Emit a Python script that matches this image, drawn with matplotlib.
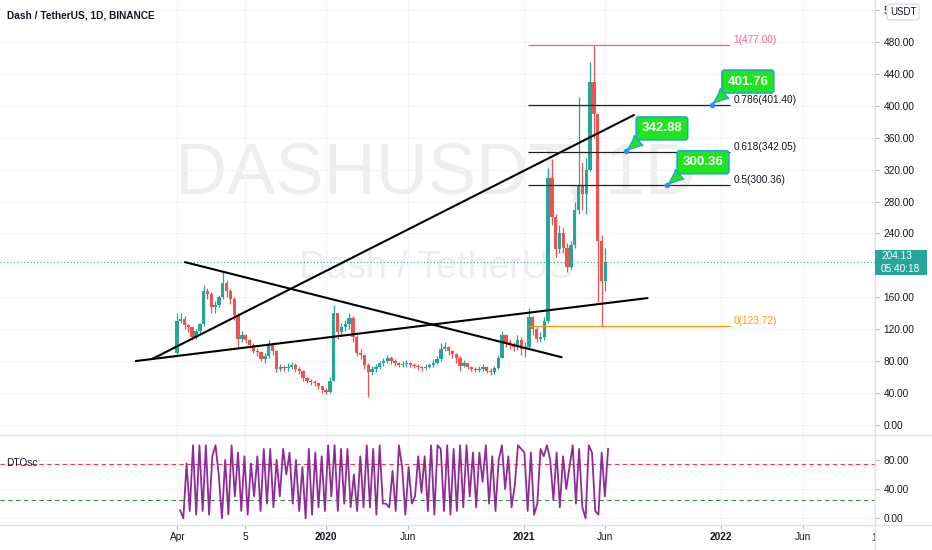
import matplotlib
matplotlib.use('Agg')
import matplotlib.pyplot as plt
import matplotlib.dates as mdates
from matplotlib.patches import Rectangle
from matplotlib.lines import Line2D
from matplotlib.ticker import FuncFormatter
from matplotlib.transforms import blended_transform_factory
import pandas as pd

plt.rcParams['font.family'] = ['Liberation Sans', 'DejaVu Sans']

# weekly candles
first_open = 90
closes = [130, 133, 125, 122, 110, 117, 126, 168, 164, 148, 150, 160, 178, 168, 158, 138,
          108, 112, 106, 100, 93, 91, 82, 86, 100, 92, 70, 72, 71, 73, 75, 70,
          68, 58, 55, 53, 52, 48, 43, 41, 55, 140, 116, 122, 126, 134, 110, 90,
          88, 75, 66, 70, 72, 77, 80, 84, 80, 77, 75, 76, 77, 75, 74, 72,
          71, 73, 75, 78, 82, 95, 98, 93, 89, 84, 74, 77, 73, 70, 69, 70,
          72, 68, 66, 71, 84, 112, 104, 100, 97, 106, 95, 98, 135, 120, 108, 110,
          130, 310, 260, 220, 240, 222, 198, 225, 270, 300, 290, 320, 430, 390, 230, 180,
          204.13]
highs = [140, 140, 136, 126, 122, 120, 128, 175, 172, 166, 155, 163, 192, 182, 170, 160,
         140, 118, 114, 108, 102, 96, 92, 90, 106, 104, 94, 76, 75, 77, 79, 77,
         72, 69, 60, 57, 56, 53, 49, 46, 60, 150, 135, 128, 132, 140, 136, 112,
         95, 88, 78, 74, 76, 80, 84, 88, 86, 82, 79, 80, 81, 79, 78, 76,
         74, 76, 78, 82, 86, 102, 104, 99, 94, 90, 86, 81, 78, 74, 73, 74,
         76, 74, 71, 74, 88, 118, 114, 108, 104, 112, 110, 104, 146, 136, 122, 116,
         135, 322, 334, 265, 250, 248, 228, 230, 280, 411, 330, 335, 455, 477, 364, 238,
         222]
lows = [88, 128, 120, 116, 106, 108, 115, 124, 158, 140, 140, 148, 158, 160, 152, 132,
        98, 104, 102, 96, 90, 86, 80, 78, 84, 88, 66, 67, 67, 68, 70, 66,
        64, 55, 52, 50, 48, 45, 40, 38, 40, 55, 108, 112, 118, 120, 104, 86,
        82, 70, 35, 62, 66, 70, 74, 78, 76, 74, 72, 72, 73, 72, 71, 69,
        68, 69, 71, 73, 76, 80, 92, 88, 84, 78, 68, 72, 70, 67, 66, 66,
        68, 65, 63, 64, 70, 84, 98, 95, 92, 94, 88, 85, 96, 112, 104, 104,
        106, 128, 250, 210, 215, 215, 192, 195, 222, 265, 270, 265, 318, 360, 154, 123.72,
        168]
candle_dates = pd.date_range('2019-03-31', '2021-06-01', periods=len(closes))

# DTOsc, turning points
osc = [11, 0, 75, 10, 100, 5, 100, 10, 100, 5, 85, 100, 60, 0, 80, 5, 100, 30, 90, 10,
       85, 5, 75, 30, 85, 10, 95, 20, 95, 15, 80, 30, 95, 60, 90, 20, 80, 10, 70, 0,
       95, 5, 90, 15, 85, 10, 100, 30, 100, 10, 95, 20, 95, 15, 60, 10, 85, 15, 100, 15,
       95, 5, 100, 20,
       20, 15, 65, 10, 100, 70, 5, 70, 20, 30, 85, 35, 85, 10, 100, 5, 100, 95, 10, 100,
       5, 95, 10, 100, 15, 100, 30, 90, 15, 90, 50, 100, 20, 85, 10, 80, 100, 40, 85, 15,
       45, 100, 95, 90, 10, 90, 5, 20, 95, 85, 100, 80, 25, 90, 15, 85, 40, 70, 100, 20,
       95, 15, 0, 100, 90, 10, 5, 90, 30, 95]
osc_dates = pd.date_range('2019-04-06', '2021-06-06', periods=len(osc))
osc_levels = [75, 25]

last_price = 204.13
countdown = '05:40:18'

fib_ratios = ['1', '0.786', '0.618', '0.5', '0']
fib_prices = [477.00, 401.40, 342.05, 300.36, 123.72]
fib_colors = ['#f06088', '#202020', '#202020', '#202020', '#ff9800']
fib_start, fib_end = pd.Timestamp('2021-01-09'), pd.Timestamp('2022-01-18')

callout_values = [401.76, 342.88, 300.36]
callout_dates = ['2021-12-15', '2021-07-09', '2021-09-23']

trendlines = [(('2019-02-13', 82.4), ('2021-07-24', 388.6)),
              (('2019-01-14', 79.9), ('2021-08-18', 158.9)),
              (('2019-04-15', 204.0), ('2021-03-12', 84.7))]

price_ticks = list(range(0, 521, 40))
osc_ticks = [0, 40, 80]
xtick_dates = ['2019-04-01', '2019-08-05', '2020-01-01', '2020-06-01',
               '2021-01-01', '2021-06-01', '2022-01-01', '2022-06-01']
xtick_labels = ['Apr', '5', '2020', 'Jun', '2021', 'Jun', '2022', 'Jun']

UP, DOWN = '#26a69a', '#ef5350'
TXT = '#131722'
GRID = '#f0f3fa'
BORDER = '#e0e3eb'

W, H = 932, 550
fig = plt.figure(figsize=(W / 100, H / 100), dpi=100)
ax = fig.add_axes([0, 1 - 435 / H, 875 / W, 435 / H])
ax2 = fig.add_axes([0, 1 - 525 / H, 875 / W, 90 / H], sharex=ax)

jan2020 = mdates.date2num(pd.Timestamp('2020-01-01'))
ax.set_xlim(jan2020 - 603.3, jan2020 + 1015.9)
ax.set_ylim(-12.9, 532.9)
ax2.set_ylim(-9.2, 114.1)

for a in (ax, ax2):
    for s in a.spines.values():
        s.set_visible(False)
    a.yaxis.tick_right()
    a.set_xticks([mdates.date2num(pd.Timestamp(d)) for d in xtick_dates])
    a.grid(True, color=GRID, lw=0.8, zorder=0)
    a.set_axisbelow(True)
    a.tick_params(axis='y', length=3, color='#b2b5be', pad=3, labelsize=7.3, labelcolor=TXT)
    a.yaxis.set_major_formatter(FuncFormatter(lambda v, p: f'{v:.2f}'))

ax.set_yticks(price_ticks)
ax2.set_yticks(osc_ticks)
ax.tick_params(axis='x', length=0, labelbottom=False)
ax2.tick_params(axis='x', length=3, color='#b2b5be', pad=2, labelsize=7.3, labelcolor=TXT)
ax2.set_xticklabels(xtick_labels)
for lab in ax2.get_xticklabels():
    if lab.get_text().isdigit() and len(lab.get_text()) == 4:
        lab.set_fontweight('bold')

# watermark
ax.text(0.498, 0.597, 'DASHUSDT, 1D', transform=ax.transAxes, ha='center', va='center',
        fontsize=52, color=TXT, alpha=0.07, zorder=0.5)
ax.text(0.499, 0.383, 'Dash / TetherUS', transform=ax.transAxes, ha='center', va='center',
        fontsize=27, color=TXT, alpha=0.07, zorder=0.5)

# candles
opens = [first_open] + closes[:-1]
cols = [UP if c >= o else DOWN for o, c in zip(opens, closes)]
ax.vlines(candle_dates, lows, highs, colors=cols, lw=0.9, zorder=2)
ax.bar(candle_dates, [max(abs(c - o), 0.8) for o, c in zip(opens, closes)],
       bottom=[min(o, c) for o, c in zip(opens, closes)], width=6.2, color=cols, zorder=2)

# current price
ax.axhline(last_price, color=UP, lw=0.8, ls=(0, (1, 2)), zorder=1)

# trendlines
for (d0, p0), (d1, p1) in trendlines:
    ax.plot([pd.Timestamp(d0), pd.Timestamp(d1)], [p0, p1], color='black', lw=1.5,
            solid_capstyle='round', zorder=3)

# fibonacci
for r, p, c in zip(fib_ratios, fib_prices, fib_colors):
    ax.hlines(p, fib_start, fib_end, colors=c, lw=0.9, zorder=3)
    ax.annotate(f'{r}({p:.2f})', xy=(fib_end, p), xytext=(3, 0), textcoords='offset pixels',
                ha='left', va='bottom', fontsize=7.3, color=c if c != '#202020' else TXT)

# callouts
for v, d in zip(callout_values, callout_dates):
    d = pd.Timestamp(d)
    ax.annotate(f'{v:.2f}', xy=(d, v), xytext=(36, 23), textcoords='offset pixels',
                ha='center', va='center', fontsize=9.5, fontweight='bold', color='white',
                bbox=dict(boxstyle='round,pad=0.42,rounding_size=0.2', fc='#1ee61e', ec='#2196f3', lw=1),
                arrowprops=dict(arrowstyle='wedge,tail_width=1.0,shrink_factor=0.35',
                                fc='#1ee61e', ec='#2196f3', lw=0.8, relpos=(0.12, 0.05),
                                shrinkA=0, shrinkB=0),
                zorder=6)
    ax.plot(d, v, 'o', color='#2196f3', ms=3, zorder=7)

# oscillator
ax2.plot(osc_dates, osc, color='#8e2c9a', lw=1.3, zorder=3)
for lvl, c in zip(osc_levels, ['#f23645', '#388e3c']):
    ax2.axhline(lvl, color=c, lw=0.8, ls=(0, (4, 3)), zorder=2)
ax2.text(0.007, 0.69, 'DTOsc', transform=ax2.transAxes, ha='left', va='center',
         fontsize=7.3, color=TXT)
bt = blended_transform_factory(ax2.transData, ax2.transAxes)
ax2.text(mdates.date2num(pd.Timestamp('2022-10-16')), -0.14, '10', transform=bt,
         ha='center', va='center', fontsize=7.3, color=TXT, clip_on=False)

# pane borders
fig.add_artist(Rectangle((875.5 / W, 0), 1, 25 / H, transform=fig.transFigure,
                         fc='white', ec='none', zorder=4))
fig.add_artist(Line2D([875 / W, 875 / W], [0, 1], color=BORDER, lw=1, zorder=5))
for yy in (435, 525):
    fig.add_artist(Line2D([0, 1], [1 - yy / H, 1 - yy / H], color=BORDER, lw=1, zorder=5))

# price label
fig.canvas.draw()
y_px = ax.transData.transform((0, last_price))[1]
fig.add_artist(Rectangle((875 / W, (y_px - 12.5) / H), 52 / W, 25 / H,
                         transform=fig.transFigure, fc=UP, ec='none', zorder=6))
fig.text(881 / W, (y_px + 6) / H, f'{last_price:.2f}', color='white', fontsize=7.3,
         ha='left', va='center', zorder=7)
fig.text(881 / W, (y_px - 6.5) / H, countdown, color='white', fontsize=7.3,
         ha='left', va='center', zorder=7)

fig.text(903 / W, 1 - 12 / H, 'USDT', ha='center', va='center', fontsize=7, color=TXT, zorder=7,
         bbox=dict(boxstyle='round,pad=0.3,rounding_size=0.3', fc='white', ec='#d1d4dc', lw=0.8))

fig.text(7 / W, 1 - 15 / H, 'Dash / TetherUS, 1D, BINANCE', ha='left', va='center',
         fontsize=7.3, fontweight='bold', color=TXT)

fig.savefig('out.png', dpi=100, facecolor='white')
